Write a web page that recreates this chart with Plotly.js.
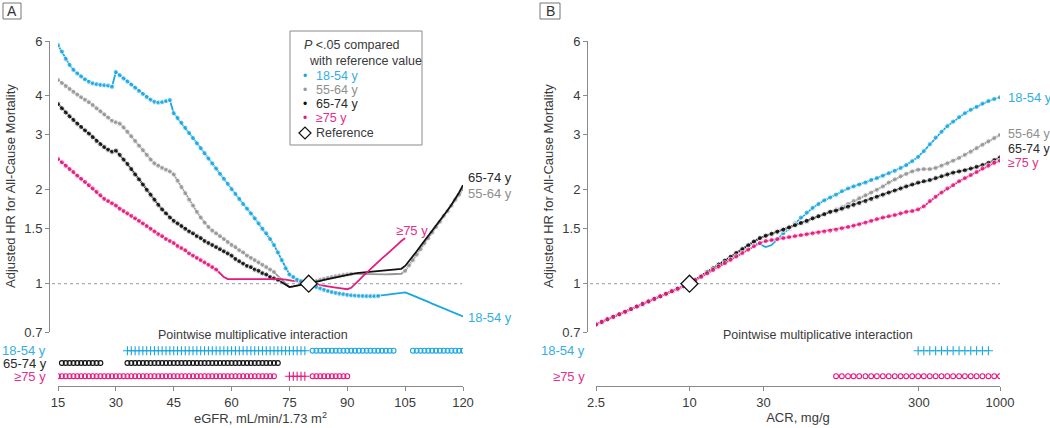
<!DOCTYPE html>
<html>
<head>
<meta charset="utf-8">
<script src="https://cdn.plot.ly/plotly-3.0.1.min.js"></script>
<style>html,body{margin:0;padding:0;background:#fff;}#chart{width:1050px;height:428px;}</style>
</head>
<body>
<div id="chart"></div>
<script>
// ---------------- DATA ----------------
// Panel A: eGFR grid
const eGFR = [15,16,17,18,19,20,21,22,23,24,25,26,27,28,29,30,31,32,33,34,35,36,37,38,39,40,41,42,43,44,45,46,47,48,49,50,51,52,53,54,55,56,57,58,59,60,61,62,63,64,65,66,67,68,69,70,71,72,73,74,75,76,77,78,79,80,81,82,83,84,85,86,87,88,89,90,91,92,93,94,95,96,97,98,99,100,101,102,103,104,105,106,107,108,109,110,111,112,113,114,115,116,117,118,119,120];
const hrA_18_54 = [5.82,5.55,5.26,5.03,4.85,4.72,4.62,4.52,4.44,4.39,4.36,4.34,4.33,4.32,4.28,
 4.77,4.66,4.55,4.45,4.35,4.25,4.15,4.06,3.97,3.89,3.83,3.81,3.82,3.85,3.88,
 3.52,3.40,3.28,3.16,3.04,2.93,2.82,2.72,2.62,2.52,2.43,2.34,2.25,2.17,2.09,
 2.01,1.94,1.87,1.80,1.74,1.68,1.62,1.56,1.50,1.45,1.39,1.33,1.26,1.19,1.12,
 1.07,1.05,1.03,1.02,1.01,1.00,0.985,0.975,0.965,0.955,0.947,0.940,0.934,0.929,0.925,
 0.921,0.918,0.916,0.914,0.913,0.912,0.912,0.912,0.913,0.916,0.920,0.924,0.928,0.932,0.936,
 0.938,0.928,0.918,0.907,0.896,0.885,0.874,0.863,0.853,0.843,0.833,0.823,0.813,0.803,0.794,0.785];
const hrA_55_64 = [4.50,4.40,4.30,4.21,4.12,4.04,3.96,3.89,3.82,3.74,3.65,3.57,3.49,3.41,3.33,
 3.29,3.26,3.17,3.07,2.97,2.87,2.77,2.68,2.59,2.50,2.43,2.39,2.35,2.32,2.29,
 2.24,2.14,2.04,1.95,1.86,1.78,1.70,1.63,1.57,1.52,1.48,1.45,1.42,1.39,1.36,
 1.33,1.31,1.28,1.26,1.23,1.21,1.19,1.17,1.15,1.13,1.11,1.09,1.06,1.03,1.00,
 0.975,0.98,0.985,0.99,0.995,1.00,1.01,1.02,1.03,1.037,1.044,1.05,1.056,1.062,1.067,
 1.071,1.075,1.075,1.074,1.073,1.072,1.071,1.070,1.070,1.070,1.071,1.072,1.073,1.074,1.076,
 1.10,1.145,1.19,1.24,1.29,1.35,1.40,1.46,1.52,1.58,1.65,1.71,1.78,1.86,1.93,2.01];
const hrA_65_74 = [3.77,3.65,3.54,3.44,3.35,3.26,3.18,3.10,3.03,2.95,2.87,2.80,2.74,2.69,2.65,
 2.67,2.59,2.50,2.42,2.33,2.24,2.16,2.08,2.00,1.93,1.86,1.79,1.73,1.68,1.63,
 1.59,1.56,1.53,1.50,1.47,1.45,1.42,1.40,1.37,1.35,1.33,1.31,1.29,1.27,1.25,
 1.23,1.20,1.18,1.16,1.14,1.13,1.11,1.10,1.08,1.07,1.05,1.04,1.03,1.01,0.99,
 0.975,0.98,0.985,0.99,0.995,1.00,1.007,1.014,1.021,1.028,1.035,1.042,1.049,1.056,1.063,
 1.070,1.077,1.080,1.083,1.086,1.089,1.092,1.095,1.098,1.101,1.104,1.107,1.110,1.113,1.116,
 1.14,1.18,1.23,1.27,1.32,1.37,1.42,1.47,1.53,1.59,1.65,1.72,1.79,1.87,1.96,2.07];
const hrA_75 = [2.51,2.45,2.39,2.33,2.28,2.22,2.17,2.12,2.07,2.02,1.97,1.92,1.87,1.84,1.81,
 1.78,1.74,1.71,1.68,1.65,1.62,1.59,1.56,1.53,1.50,1.47,1.44,1.42,1.39,1.37,
 1.35,1.32,1.30,1.28,1.25,1.23,1.21,1.19,1.17,1.15,1.13,1.11,1.08,1.05,1.035,
 1.035,1.036,1.037,1.037,1.038,1.038,1.039,1.039,1.04,1.04,1.04,1.04,1.04,1.035,1.03,
 1.025,1.02,1.015,1.01,1.005,1.0,0.996,0.992,0.988,0.984,0.98,0.976,0.972,0.968,0.964,
 0.96,0.97,0.995,1.025,1.055,1.085,1.115,1.145,1.175,1.205,1.235,1.27,1.30,1.335,1.37,
 1.40];
// eGFR ranges where the curve point is significant (P<.05 vs reference)
const sigA_18_54 = [[15,98]];
const sigA_55_64 = [[15,71],[81,91],[105,120]];
const sigA_65_74 = [[15,72]];
const sigA_75 = [[15,56]];
const refA = {x: 80, y: 1};

// Panel A pointwise interaction rows
const rugA_18_plus = [33,34,35,36,37,38,39,40,41,42,43,44,45,46,47,48,49,50,51,52,53,54,55,56,57,58,59,60,61,62,63,64,65,66,67,68,69,70,71,72,73,74,75,76,77,78,79];
const rugA_18_open = [81,82,83,84,85,86,87,88,89,90,91,92,93,94,95,96,97,98,99,100,101,102,107,108,109,110,111,112,113,114,115,116,117,118,119,120];
const rugA_65_open = [16,17,18,19,20,21,22,23,24,25,26,33,34,35,36,37,38,39,40,41,42,43,44,45,46,47,48,49,50,51,52,53,54,55,56,57,58,59,60,61,62,63,64,65,66,67,68,69,70,71,72];
const rugA_75_open = [15,16,17,18,19,20,21,22,23,24,25,26,27,28,29,30,31,32,33,34,35,36,37,38,39,40,41,42,43,44,45,46,47,48,49,50,51,52,53,54,55,56,57,58,59,60,61,62,63,64,65,66,67,68,69,70,71,81,82,83,84,85,86,87,88,89,90];
const rugA_75_plus = [75,76,77,78,79];

// Panel B: ACR grid
const ACR = [2.5,2.72,2.96,3.23,3.53,3.85,4.2,4.58,4.99,5.44,5.94,6.48,7.06,7.7,8.4,9.17,10,
 10.9,11.9,13,14.2,15.4,16.9,18.4,20,21.9,23.9,26,28.4,31,33.8,36.8,40.2,43.8,47.8,52.2,56.9,62.1,67.7,73.8,80.6,87.9,95.8,105,114,124,136,148,161,176,192,210,229,249,272,297,323,353,385,420,458,499,545,594,648,707,771,842,918,1000];
const hrB_18_54 = [0.74,0.754,0.769,0.783,0.798,0.813,0.829,0.845,0.861,0.877,0.894,0.911,0.928,0.946,0.964,0.982,1.0,
 1.029,1.058,1.089,1.12,1.152,1.185,1.219,1.254,1.29,1.327,
 1.355,1.34,1.31,1.33,1.39,1.45,1.50,1.56,1.63,1.69,
 1.75,1.80,1.85,1.89,1.93,1.98,2.02,2.05,2.08,2.11,
 2.15,2.18,2.22,2.26,2.30,2.35,2.40,2.47,2.55,2.66,
 2.80,2.94,3.07,3.20,3.31,3.42,3.52,3.61,3.69,3.78,
 3.85,3.91,3.96];
const hrB_55_64 = [0.74,0.754,0.769,0.783,0.798,0.813,0.829,0.845,0.861,0.877,0.894,0.911,0.928,0.946,0.964,0.982,1.0,
 1.029,1.058,1.089,1.12,1.152,1.185,1.219,1.254,1.29,1.327,
 1.365,1.40,1.425,1.445,1.468,1.49,1.515,1.54,1.565,1.59,
 1.62,1.645,1.67,1.70,1.73,1.76,1.80,1.84,1.88,1.92,
 1.96,2.00,2.05,2.11,2.16,2.21,2.25,2.29,2.32,2.33,
 2.33,2.35,2.39,2.43,2.48,2.53,2.59,2.65,2.72,2.79,
 2.86,2.93,3.0];
const hrB_65_74 = [0.74,0.754,0.769,0.783,0.798,0.813,0.829,0.845,0.861,0.877,0.894,0.911,0.928,0.946,0.964,0.982,1.0,
 1.029,1.058,1.089,1.12,1.152,1.185,1.219,1.254,1.29,1.327,
 1.365,1.40,1.425,1.445,1.468,1.49,1.515,1.54,1.565,1.59,
 1.62,1.645,1.67,1.70,1.715,1.74,1.765,1.79,1.815,1.84,
 1.87,1.90,1.93,1.96,1.99,2.02,2.05,2.08,2.11,2.13,
 2.15,2.18,2.21,2.24,2.27,2.29,2.31,2.34,2.37,2.40,
 2.44,2.49,2.54];
const hrB_75 = [0.74,0.754,0.769,0.783,0.798,0.813,0.829,0.845,0.861,0.877,0.894,0.911,0.928,0.946,0.964,0.982,1.0,
 1.026,1.052,1.079,1.106,1.134,1.163,1.193,1.223,1.254,1.286,
 1.319,1.35,1.37,1.38,1.39,1.40,1.41,1.42,1.43,1.44,
 1.45,1.46,1.47,1.48,1.49,1.505,1.52,1.535,1.55,1.57,
 1.59,1.61,1.63,1.645,1.66,1.68,1.70,1.71,1.73,1.77,
 1.84,1.90,1.96,2.02,2.07,2.13,2.18,2.23,2.28,2.34,
 2.39,2.44,2.48];
const sigB_18_54 = [[2.5,10],[40,1000]];
const sigB_55_64 = [[2.5,1000]];
const sigB_65_74 = [[2.5,1000]];
const sigB_75 = [[2.5,1000]];
const refB = {x: 10, y: 1};
const rugB_18_plus = [297,323,353,385,420,458,499,545,594,648,707,771,842];
const rugB_75_open = [87.9,95.8,105,114,124,136,148,161,176,192,210,229,249,272,297,323,353,385,420,458,499,545,594,648,707,771,842,918,1000];

const groupNames = ['18-54 y','55-64 y','65-74 y','≥75 y'];
const xTicksA = [15,30,45,60,75,90,105,120];
const xTicksB = [2.5,10,30,300,1000];
const yTicks = [0.7,1,1.5,2,3,4,6];

// ---------------- STYLE ----------------
const C18 = '#1AA7E0', C55 = '#969696', C65 = '#111111', C75 = '#E5197F';
const T18 = '#35AEE2', T55 = '#8E8E8E', T65 = '#2a2a2a', T75 = '#E2308C';
const W = 1050, H = 428, MB = 42, PH = H - MB;
const X = p => p / W;
const Y = p => (PH - p) / PH;
const ROW1 = 35.3, ROW2 = 23, ROW3 = 9.8; // strip rows (px above x-axis line)
const FONT = 'Liberation Sans, Arial, Helvetica, sans-serif';
const TXT = '#3a3a3a';

function sizesFor(xs, ranges, s) {
  return xs.map(v => ranges.some(r => v >= r[0] - 1e-9 && v <= r[1] + 1e-9) ? s : 0);
}
function curve(xs, ys, sig, color, xa, ya) {
  const xx = xs.slice(0, ys.length);
  return {x: xx, y: ys, xaxis: xa, yaxis: ya, type: 'scatter', mode: 'lines+markers',
    line: {color: color, width: 1.8}, marker: {color: color, size: sizesFor(xx, sig, 5.2)},
    hoverinfo: 'skip'};
}
function rug(xs, row, color, symbol, xa, ya) {
  return {x: xs, y: xs.map(() => row), xaxis: xa, yaxis: ya, type: 'scatter', mode: 'markers',
    marker: {symbol: symbol, size: symbol === 'circle-open' ? 4.8 : 6.5, color: color,
      line: {color: color, width: 1.1}}, hoverinfo: 'skip'};
}
function refMarker(r, xa, ya) {
  return {x: [r.x], y: [r.y], xaxis: xa, yaxis: ya, type: 'scatter', mode: 'markers',
    marker: {symbol: 'diamond', size: 13, color: '#ffffff', line: {color: '#111', width: 1.3}},
    hoverinfo: 'skip'};
}

const traces = [
  curve(eGFR, hrA_55_64, sigA_55_64, C55, 'x', 'y'),
  curve(eGFR, hrA_65_74, sigA_65_74, C65, 'x', 'y'),
  curve(eGFR, hrA_75, sigA_75, C75, 'x', 'y'),
  curve(eGFR, hrA_18_54, sigA_18_54, C18, 'x', 'y'),
  refMarker(refA, 'x', 'y'),
  rug(rugA_18_plus, ROW1, C18, 'cross-thin-open', 'x', 'y2'),
  rug(rugA_18_open, ROW1, C18, 'circle-open', 'x', 'y2'),
  rug(rugA_65_open, ROW2, C65, 'circle-open', 'x', 'y2'),
  rug(rugA_75_open, ROW3, C75, 'circle-open', 'x', 'y2'),
  rug(rugA_75_plus, ROW3, C75, 'cross-thin-open', 'x', 'y2'),

  curve(ACR, hrB_18_54, sigB_18_54, C18, 'x3', 'y3'),
  curve(ACR, hrB_55_64, sigB_55_64, C55, 'x3', 'y3'),
  curve(ACR, hrB_65_74, sigB_65_74, C65, 'x3', 'y3'),
  curve(ACR, hrB_75, sigB_75, C75, 'x3', 'y3'),
  refMarker(refB, 'x3', 'y3'),
  rug(rugB_18_plus, ROW1, C18, 'cross-thin-open', 'x3', 'y4'),
  rug(rugB_75_open, ROW3, C75, 'circle-open', 'x3', 'y4')
];

const axisCommon = {
  showgrid: false, zeroline: false, showline: true, linecolor: '#8a8a8a', linewidth: 1,
  ticks: 'outside', ticklen: 4, tickwidth: 1, tickcolor: '#8a8a8a',
  tickfont: {family: FONT, size: 13, color: TXT}, fixedrange: true
};
const yMain = Object.assign({}, axisCommon, {
  type: 'log', range: [Math.log10(0.7), Math.log10(6)], domain: [Y(332), Y(41)],
  tickvals: yTicks, ticktext: yTicks.map(String), anchor: 'free'
});

const layout = {
  width: W, height: H, margin: {l: 0, r: 0, t: 0, b: MB, pad: 0},
  paper_bgcolor: '#ffffff', plot_bgcolor: 'rgba(0,0,0,0)', showlegend: false,
  font: {family: FONT, size: 13, color: TXT},
  xaxis: Object.assign({}, axisCommon, {
    domain: [X(58), X(463)], range: [15, 120], anchor: 'y2',
    tickvals: xTicksA, ticktext: xTicksA.map(String),
    title: {text: 'eGFR, mL/min/1.73 m<sup>2</sup>', standoff: 4, font: {family: FONT, size: 13, color: TXT}}
  }),
  yaxis: Object.assign({}, yMain, {position: X(49)}),
  yaxis2: {domain: [0, Y(332)], range: [0, 54], visible: false, anchor: 'x', fixedrange: true},
  xaxis3: Object.assign({}, axisCommon, {
    type: 'log', domain: [X(596), X(1000)], range: [Math.log10(2.5), 3], anchor: 'y4',
    tickvals: xTicksB, ticktext: xTicksB.map(String),
    title: {text: 'ACR, mg/g', standoff: 4, font: {family: FONT, size: 13, color: TXT}}
  }),
  yaxis3: Object.assign({}, yMain, {position: X(587)}),
  yaxis4: {domain: [0, Y(332)], range: [0, 54], visible: false, anchor: 'x3', fixedrange: true},
  shapes: [
    {type: 'line', xref: 'paper', yref: 'y', x0: X(52), x1: X(462), y0: 1, y1: 1,
     line: {color: '#9a9a9a', width: 1, dash: 'dot'}, layer: 'below'},
    {type: 'line', xref: 'paper', yref: 'y3', x0: X(590), x1: X(1000), y0: 1, y1: 1,
     line: {color: '#9a9a9a', width: 1, dash: 'dot'}, layer: 'below'},
    {type: 'rect', xref: 'paper', yref: 'paper', x0: X(3), x1: X(21), y0: Y(19), y1: Y(3),
     line: {color: '#777', width: 1}},
    {type: 'rect', xref: 'paper', yref: 'paper', x0: X(540), x1: X(560), y0: Y(19), y1: Y(3),
     line: {color: '#777', width: 1}},
    {type: 'rect', xref: 'paper', yref: 'paper', x0: X(290), x1: X(422), y0: Y(145), y1: Y(31),
     line: {color: '#8a8a8a', width: 1}, fillcolor: '#ffffff', layer: 'above'},
    {type: 'path', xref: 'paper', yref: 'paper', layer: 'above',
     path: `M ${X(299)} ${Y(133)} L ${X(305)} ${Y(127)} L ${X(311)} ${Y(133)} L ${X(305)} ${Y(139)} Z`,
     line: {color: '#111', width: 1.2}, fillcolor: '#ffffff'}
  ],
  annotations: []
};

function ann(text, px, py, opts) {
  layout.annotations.push(Object.assign({
    text: text, xref: 'paper', yref: 'paper', x: X(px), y: Y(py), showarrow: false,
    xanchor: 'left', yanchor: 'middle', font: {family: FONT, size: 13, color: TXT}
  }, opts || {}));
}
// panel letters
ann('A', 12, 11, {xanchor: 'center', font: {family: FONT, size: 14, color: '#333'}});
ann('B', 550, 11, {xanchor: 'center', font: {family: FONT, size: 14, color: '#333'}});
// y-axis titles
ann('Adjusted HR for All-Cause Mortality', 10, 186, {xanchor: 'center', textangle: -90});
ann('Adjusted HR for All-Cause Mortality', 548, 186, {xanchor: 'center', textangle: -90});
// legend box
ann('<i>P</i> &lt;.05 compared', 302, 45, {font: {family: FONT, size: 12.5, color: TXT}});
ann('with reference value', 307, 61, {font: {family: FONT, size: 12.5, color: TXT}});
const legRows = [[groupNames[0], C18, T18, 76], [groupNames[1], C55, T55, 90], [groupNames[2], C65, T65, 104], [groupNames[3], C75, T75, 118]];
legRows.forEach(r => {
  ann('•', 301, r[3], {font: {family: FONT, size: 12, color: r[1]}});
  ann(r[0], 314, r[3], {font: {family: FONT, size: 12.5, color: r[2]}});
});
ann('Reference', 314, 133, {font: {family: FONT, size: 12.5, color: TXT}});
// end-of-line labels panel A
ann(groupNames[2], 466, 177, {font: {family: FONT, size: 13, color: T65}});
ann(groupNames[1], 466, 193, {font: {family: FONT, size: 13, color: T55}});
ann(groupNames[3], 394, 230, {font: {family: FONT, size: 13, color: T75}});
ann(groupNames[0], 466, 317, {font: {family: FONT, size: 13, color: T18}});
// end-of-line labels panel B
ann(groupNames[0], 1006, 97, {font: {family: FONT, size: 13, color: T18}});
ann(groupNames[1], 1006, 134, {font: {family: FONT, size: 12.5, color: T55}});
ann(groupNames[2], 1006, 149, {font: {family: FONT, size: 12.5, color: T65}});
ann(groupNames[3], 1006, 163, {font: {family: FONT, size: 12.5, color: T75}});
// interaction strips
ann('Pointwise multiplicative interaction', 253, 335, {xanchor: 'center', font: {family: FONT, size: 12.5, color: TXT}});
ann('Pointwise multiplicative interaction', 818, 335, {xanchor: 'center', font: {family: FONT, size: 12.5, color: TXT}});
ann(groupNames[0], 48, 386 - ROW1, {xanchor: 'right', font: {family: FONT, size: 13, color: T18}});
ann(groupNames[2], 49, 386 - ROW2, {xanchor: 'right', font: {family: FONT, size: 13, color: T65}});
ann(groupNames[3], 48, 386 - ROW3, {xanchor: 'right', font: {family: FONT, size: 13, color: T75}});
ann(groupNames[0], 587, 386 - ROW1, {xanchor: 'right', font: {family: FONT, size: 13, color: T18}});
ann(groupNames[3], 587, 386 - ROW3, {xanchor: 'right', font: {family: FONT, size: 13, color: T75}});

Plotly.newPlot('chart', traces, layout, {staticPlot: true, displayModeBar: false});
</script>
</body>
</html>
